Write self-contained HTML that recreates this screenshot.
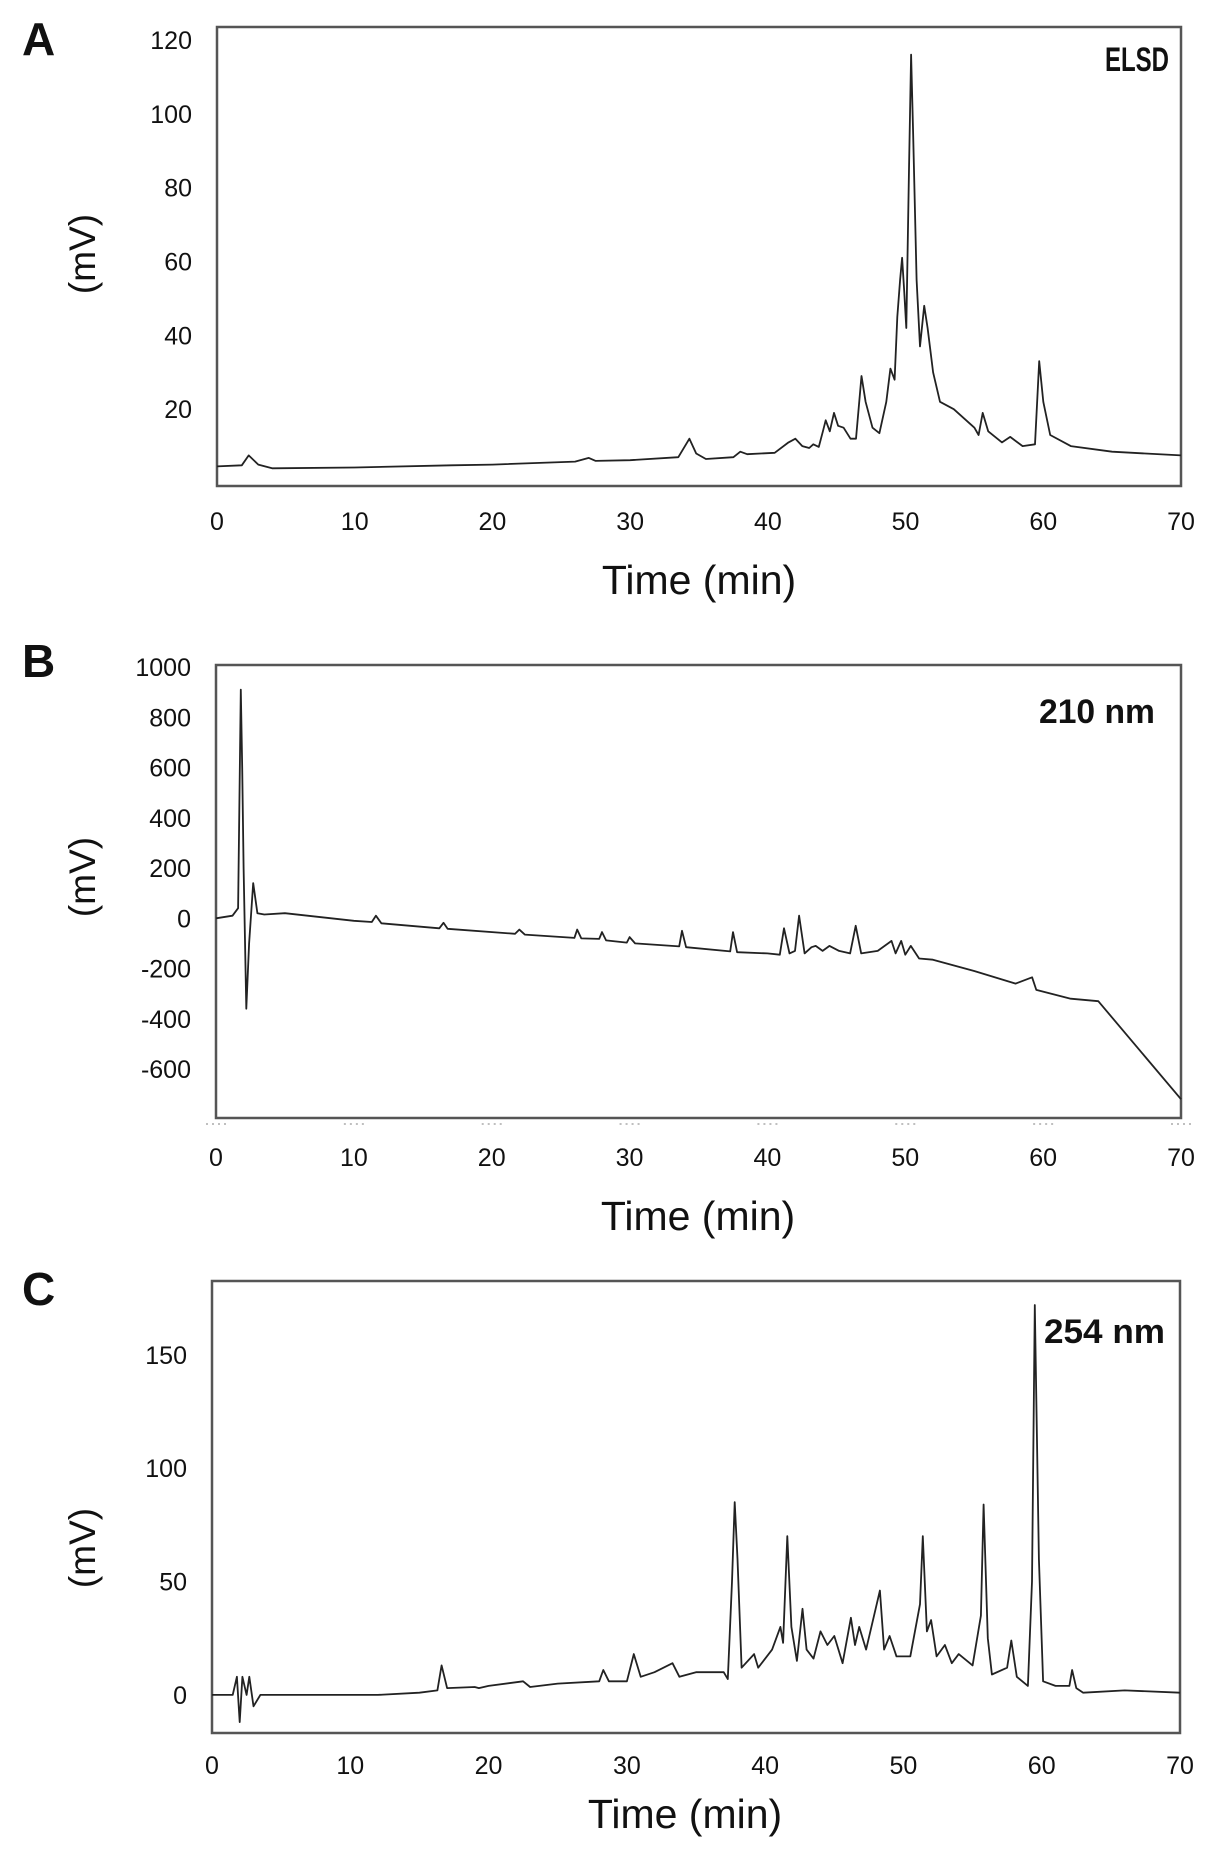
<!DOCTYPE html>
<html><head><meta charset="utf-8"><style>
html,body{margin:0;padding:0;background:#fff}
svg{display:block}
text{font-family:"Liberation Sans",sans-serif;fill:#111}
</style></head><body>
<svg id="fig" width="1205" height="1849" viewBox="0 0 1205 1849"></svg>
<script>
// ---- Panel A (ELSD) data ----
const aTimes=[0,1.8,2.3,3,4,10,17,20,26,27,27.5,30,33.5,34.3,34.8,35.5,37.5,38,38.5,40.5,41.5,42,42.5,43,43.3,43.7,44,44.2,44.5,44.8,45.1,45.5,46,46.4,46.8,47.1,47.6,48.1,48.6,48.9,49.2,49.4,49.6,49.75,49.9,50.05,50.25,50.4,50.55,50.8,51.05,51.35,51.6,52,52.5,53.5,55,55.3,55.6,56,57,57.6,58.5,59.4,59.7,60,60.5,62,65,70];
const aValues=[4.5,4.8,7.5,5,4,4.2,4.8,5,5.8,6.8,6,6.2,7,12,8,6.5,7,8.5,7.8,8.2,11,12,10,9.5,10.5,9.8,14,17,14,19,15.5,15,12,12,29,22,15,13.5,22,31,28,45,55,61,52,42,85,116,95,55,37,48,42,30,22,20,15,13,19,14,11,12.5,10,10.5,33,22,13,10,8.5,7.5];
const aYTicks=[20,40,60,80,100,120];
// ---- Panel B (210 nm) data ----
const bTimes=[0,1.2,1.6,1.8,1.9,2.0,2.2,2.4,2.7,3.0,3.5,5,10,11.3,11.6,12,16.2,16.5,16.8,21.7,22,22.4,26,26.2,26.5,27.8,28,28.3,29.8,30,30.4,33.6,33.8,34.1,37.3,37.5,37.8,40,40.9,41.2,41.6,42,42.3,42.7,43.2,43.5,44,44.5,45.2,46,46.4,46.8,48,49,49.3,49.7,50,50.4,51,52,55,58,59.2,59.5,62,64,70];
const bValues=[0,10,40,910,600,200,-360,-100,140,20,15,20,-10,-15,10,-20,-40,-18,-42,-62,-45,-65,-78,-45,-80,-82,-55,-88,-97,-75,-100,-112,-50,-115,-132,-55,-135,-140,-145,-40,-140,-130,10,-140,-115,-110,-130,-110,-130,-140,-30,-140,-130,-90,-140,-90,-145,-110,-160,-165,-210,-260,-235,-285,-320,-330,-720];
const bYTicks=[-600,-400,-200,0,200,400,600,800,1000];
// ---- Panel C (254 nm) data ----
const cTimes=[0,1.5,1.8,2.0,2.2,2.5,2.7,3.0,3.5,5,12,15,16.3,16.6,17,19,19.3,20,22.5,23,25,28,28.3,28.7,30,30.5,31,32,33.3,33.8,35,37,37.3,37.6,37.8,38,38.3,39.2,39.5,40.5,41.1,41.3,41.6,41.9,42.3,42.7,43,43.5,44,44.5,45,45.6,46.2,46.5,46.8,47.3,48.3,48.6,49,49.5,50.5,51.2,51.4,51.7,52,52.4,53,53.5,54,55,55.6,55.8,56.1,56.4,57.5,57.8,58.2,59,59.3,59.5,59.8,60.1,61,62,62.2,62.5,63,66,70];
const cValues=[0,0,8,-12,8,0,8,-5,0,0,0,1,2,13,3,3.5,3,4,6,3.5,5,6,11,6,6,18,8,10,14,8,10,10,7,50,85,60,12,18,12,20,30,23,70,30,15,38,20,16,28,22,26,14,34,22,30,20,46,20,26,17,17,40,70,28,33,17,22,14,18,13,35,84,25,9,12,24,8,4,50,172,60,6,4,4,11,3,1,2,1];
const cYTicks=[0,50,100,150];
const xTicks=[0,10,20,30,40,50,60,70];

const NS="http://www.w3.org/2000/svg";
const svg=document.getElementById('fig');
function mk(tag,attrs,parent){const e=document.createElementNS(NS,tag);for(const k in attrs)e.setAttribute(k,attrs[k]);(parent||svg).appendChild(e);return e;}

const panels=[
 {id:'a',letter:'A',lx:22,ly:55,x0:217,x1:1181,y0:27,y1:486,vmin:-0.8,vmax:123.5,times:aTimes,vals:aValues,yt:aYTicks,label:'ELSD',labX:1169,labY:71,labW:64,xlY:530,tY:594,tX:699,mvY:254,dots:false},
 {id:'b',letter:'B',lx:22,ly:677,x0:216,x1:1181,y0:665,y1:1118,vmin:-795,vmax:1008,times:bTimes,vals:bValues,yt:bYTicks,label:'210 nm',labX:1155,labY:723,labW:116,xlY:1166,tY:1230,tX:698,mvY:877,dots:true},
 {id:'c',letter:'C',lx:22,ly:1305,x0:212,x1:1180,y0:1281,y1:1733,vmin:-16.8,vmax:182.6,times:cTimes,vals:cValues,yt:cYTicks,label:'254 nm',labX:1165,labY:1343,labW:121,xlY:1774,tY:1828,tX:685,mvY:1548,dots:false}
];

panels.forEach(p=>{
 const g=mk('g',{});
 
 
 const xs=t=>p.x0+(t/70)*(p.x1-p.x0);
 const ys=v=>p.y1-(v-p.vmin)/(p.vmax-p.vmin)*(p.y1-p.y0);
 const L=mk('text',{x:p.lx,y:p.ly,'font-size':46,'font-weight':'bold'},g);L.textContent=p.letter;
 
 
 const box=mk('rect',{x:p.x0,y:p.y0,width:p.x1-p.x0,height:p.y1-p.y0,fill:'none',stroke:'#555','stroke-width':2.5},g);
 
 
 p.yt.forEach(v=>{
  const t=mk('text',{x:p.x0-25,y:ys(v)+9,'font-size':25,'text-anchor':'end'},g);t.textContent=v;
  
  
 });
 xTicks.forEach(v=>{
  const t=mk('text',{x:xs(v),y:p.xlY,'font-size':25,'text-anchor':'middle'},g);t.textContent=v;
  
  
  if(p.dots){
   const d=mk('line',{x1:xs(v)-10,x2:xs(v)+10,y1:p.y1+6,y2:p.y1+6,stroke:'#aaa','stroke-width':1.5,'stroke-dasharray':'2 4'},g);
   
   
  }
 });
 const tl=mk('text',{x:p.tX,y:p.tY,'font-size':41,'text-anchor':'middle'},g);tl.textContent='Time (min)';
 
 
 const mv=mk('text',{x:0,y:0,'font-size':37,'text-anchor':'middle',transform:'translate(95,'+p.mvY+') rotate(-90)'},g);mv.textContent='(mV)';
 
 
 const lab=mk('text',{x:p.labX,y:p.labY,'font-size':34,'font-weight':'bold','text-anchor':'end',textLength:p.labW,lengthAdjust:'spacingAndGlyphs'},g);lab.textContent=p.label;
 
 
 let d='';
 p.times.forEach((t,i)=>{d+=(i?'L':'M')+xs(t).toFixed(1)+','+ys(p.vals[i]).toFixed(1);});
 const path=mk('path',{d:d,fill:'none',stroke:'#222','stroke-width':1.8,'stroke-linejoin':'round'},g);
 
 
});
</script>
</body></html>
